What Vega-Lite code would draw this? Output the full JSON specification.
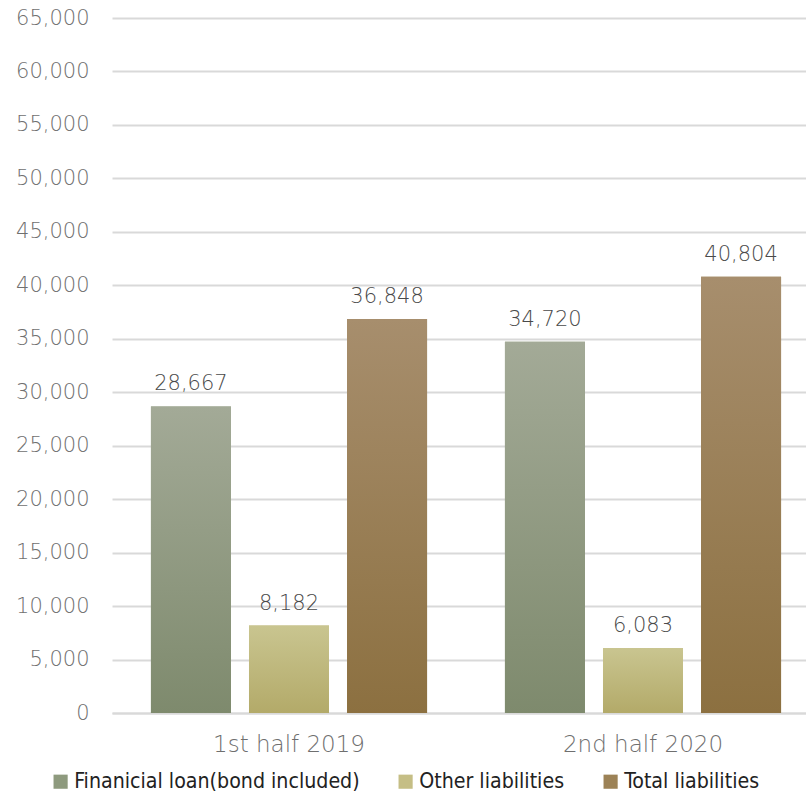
{
  "$schema": "https://vega.github.io/schema/vega-lite/v6.json",
  "width": 694,
  "height": 695,
  "autosize": "none",
  "padding": {"left": 112, "top": 18, "right": 0, "bottom": 83},
  "background": "white",
  "config": {"view": {"stroke": null}},
  "data": {"values": [
    {"period": "1st half 2019", "series": "Finanicial loan(bond included)", "value": 28667},
    {"period": "1st half 2019", "series": "Other liabilities", "value": 8182},
    {"period": "1st half 2019", "series": "Total liabilities", "value": 36848},
    {"period": "2nd half 2020", "series": "Finanicial loan(bond included)", "value": 34720},
    {"period": "2nd half 2020", "series": "Other liabilities", "value": 6083},
    {"period": "2nd half 2020", "series": "Total liabilities", "value": 40804}
  ]},
  "encoding": {
    "x": {"field": "period", "type": "nominal", "title": null,
      "scale": {"range": [0, 708], "paddingInner": 0.22, "paddingOuter": 0.11},
      "axis": {"labelAngle": 0, "labelFont": "DejaVu Sans", "labelFontSize": 23, "labelFontWeight": 300, "labelColor": "#6f6f6f", "labelPadding": 20, "ticks": false, "domainColor": "#d9d9d9", "domainWidth": 2}},
    "xOffset": {"field": "series", "type": "nominal",
      "scale": {"domain": ["Finanicial loan(bond included)", "Other liabilities", "Total liabilities"], "paddingInner": 0.184, "paddingOuter": 0}},
    "y": {"field": "value", "type": "quantitative", "title": null,
      "scale": {"domain": [0, 65000], "nice": false},
      "axis": {"values": [0,5000,10000,15000,20000,25000,30000,35000,40000,45000,50000,55000,60000,65000], "format": ",.0f", "labelFont": "DejaVu Sans", "labelFontSize": 21, "labelFontWeight": 300, "labelColor": "#6f6f6f", "labelPadding": 23, "ticks": false, "domain": false, "gridColor": "#d9d9d9", "gridWidth": 2}}
  },
  "layer": [
    {
      "mark": {"type": "bar"},
      "encoding": {
        "fill": {"field": "series", "type": "nominal", "title": null,
          "scale": {"domain": ["Finanicial loan(bond included)", "Other liabilities", "Total liabilities"],
            "range": ["#8e9a7e", "#c5be85", "#9c8256"]},
          "legend": {"orient": "none", "direction": "horizontal", "legendX": -62, "legendY": 753,
            "symbolType": "square", "symbolSize": 200, "symbolStrokeWidth": 0, "labelLimit": 0,
            "labelFont": "DejaVu Sans Condensed", "labelFontSize": 21.2, "labelColor": "#222222",
            "columnPadding": 35, "labelOffset": 3}}
      }
    },
    {
      "transform": [{"filter": "datum.series === 'Finanicial loan(bond included)'"}],
      "mark": {"type": "bar", "fill": {"gradient": "linear", "x1": 0, "y1": 0, "x2": 0, "y2": 1, "stops": [{"offset": 0, "color": "#a3aa97"}, {"offset": 1, "color": "#7e8a6d"}]}}
    },
    {
      "transform": [{"filter": "datum.series === 'Other liabilities'"}],
      "mark": {"type": "bar", "fill": {"gradient": "linear", "x1": 0, "y1": 0, "x2": 0, "y2": 1, "stops": [{"offset": 0, "color": "#c9c590"}, {"offset": 1, "color": "#b3aa69"}]}}
    },
    {
      "transform": [{"filter": "datum.series === 'Total liabilities'"}],
      "mark": {"type": "bar", "fill": {"gradient": "linear", "x1": 0, "y1": 0, "x2": 0, "y2": 1, "stops": [{"offset": 0, "color": "#a78e6d"}, {"offset": 1, "color": "#8c7040"}]}}
    },
    {
      "mark": {"type": "text", "baseline": "bottom", "dy": -12, "font": "DejaVu Sans", "fontSize": 21, "fontWeight": 300, "color": "#4a4a4a"},
      "encoding": {
        "text": {"field": "value", "type": "quantitative", "format": ","}
      }
    }
  ]
}
